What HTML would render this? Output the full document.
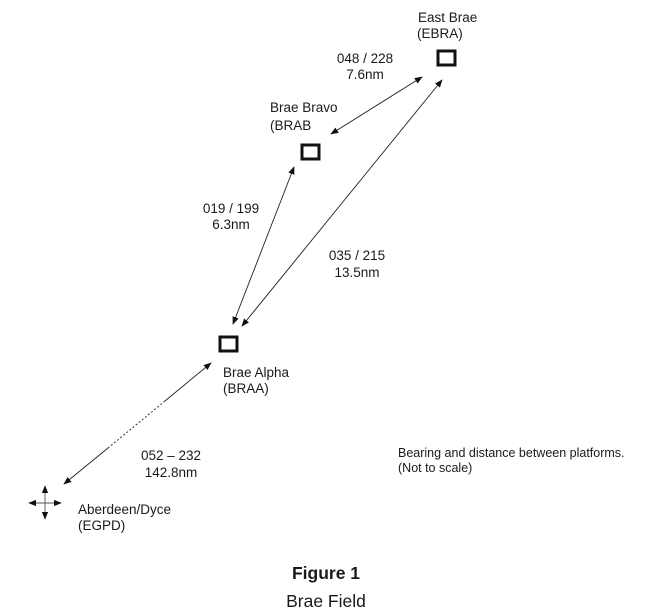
<!DOCTYPE html>
<html><head><meta charset="utf-8"><style>
html,body{margin:0;padding:0;background:#fff;}
svg{display:block}
text{font-family:"Liberation Sans",Arial,sans-serif;fill:#1a1a1a;}
</style></head><body>
<svg width="652" height="614" viewBox="0 0 652 614" xmlns="http://www.w3.org/2000/svg">
<defs>
<marker id="a" viewBox="0 0 10 10" refX="9" refY="5" markerWidth="8" markerHeight="8" markerUnits="userSpaceOnUse" orient="auto-start-reverse">
<path d="M0,1 L10,5 L0,9 z" fill="#111"/></marker>
</defs>
<g fill="none" stroke="#111" stroke-width="3">
<rect x="438" y="51" width="17" height="14"/>
<rect x="302" y="145" width="17" height="14"/>
<rect x="220" y="337" width="17" height="14"/>
</g>
<g stroke="#222" stroke-width="0.9" fill="none">
<line x1="422" y1="77" x2="331" y2="134" marker-start="url(#a)" marker-end="url(#a)"/>
<line x1="442" y1="80" x2="242" y2="326" marker-start="url(#a)" marker-end="url(#a)"/>
<line x1="294" y1="167" x2="233" y2="324" marker-start="url(#a)" marker-end="url(#a)"/>
<line x1="211" y1="363" x2="165" y2="401" marker-start="url(#a)"/>
<line x1="165" y1="401" x2="108" y2="448" stroke-dasharray="2,2"/>
<line x1="108" y1="448" x2="64" y2="484" marker-end="url(#a)"/>
<line x1="29" y1="503" x2="61" y2="503" stroke="#555" marker-start="url(#a)" marker-end="url(#a)"/>
<line x1="45" y1="486" x2="45" y2="519" stroke="#555" marker-start="url(#a)" marker-end="url(#a)"/>
</g>
<g font-size="13.5">
<text x="418" y="22">East Brae</text>
<text x="417" y="38">(EBRA)</text>
<text x="365" y="63" text-anchor="middle">048 / 228</text>
<text x="365" y="79" text-anchor="middle">7.6nm</text>
<text x="270" y="112">Brae Bravo</text>
<text x="270" y="130">(BRAB</text>
<text x="231" y="213" text-anchor="middle">019 / 199</text>
<text x="231" y="229" text-anchor="middle">6.3nm</text>
<text x="357" y="260" text-anchor="middle">035 / 215</text>
<text x="357" y="277" text-anchor="middle">13.5nm</text>
<text x="223" y="377">Brae Alpha</text>
<text x="223" y="393">(BRAA)</text>
<text x="171" y="460" text-anchor="middle">052 – 232</text>
<text x="171" y="477" text-anchor="middle">142.8nm</text>
<text x="78" y="514">Aberdeen/Dyce</text>
<text x="78" y="530">(EGPD)</text>
</g>
<text x="398" y="457" font-size="12.5">Bearing and distance between platforms.</text>
<text x="398" y="472" font-size="12.5">(Not to scale)</text>
<text x="326" y="579" font-size="17.5" font-weight="bold" text-anchor="middle">Figure 1</text>
<text x="326" y="607" font-size="17.5" text-anchor="middle">Brae Field</text>
</svg>
</body></html>
